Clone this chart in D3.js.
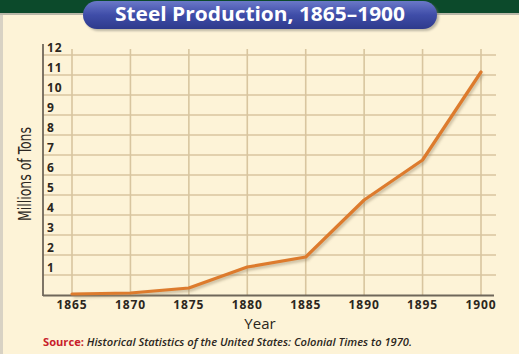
<!DOCTYPE html>
<html lang="en">
<head>
<meta charset="UTF-8">
<title>Steel Production, 1865-1900</title>
<script src="https://d3js.org/d3.v7.min.js"></script>
<style>
  body { margin: 0; background: #fff; }
  svg { display: block; }
</style>
</head>
<body>
<div id="chart"></div>
<script>
// data (millions of tons)
const years = [1865, 1870, 1875, 1880, 1885, 1890, 1895, 1900];
const tons = [0.05, 0.1, 0.35, 1.4, 1.9, 4.75, 6.75, 11.15];
const yTicks = [1, 2, 3, 4, 5, 6, 7, 8, 9, 10, 11, 12];

const W = 519, H = 354;
const svg = d3.select("#chart").append("svg")
    .attr("width", W)
    .attr("height", H);

const font = "'Open Sans', 'DejaVu Sans', sans-serif";

// background panel
svg.append("rect").attr("width", W).attr("height", H).attr("fill", "#fdf3d7");
svg.append("rect").attr("x", 0).attr("y", 0).attr("width", 3).attr("height", H).attr("fill", "#d8d2c4");
svg.append("rect").attr("x", 0).attr("y", 0).attr("width", W).attr("height", 13).attr("fill", "#0c4a2b");
svg.append("rect").attr("x", 0).attr("y", 13).attr("width", W).attr("height", 2).attr("fill", "#b9b7a8");

// title pill
const defs = svg.append("defs");
const grad = defs.append("linearGradient").attr("id", "pill").attr("x1", 0).attr("y1", 0).attr("x2", 0).attr("y2", 1);
grad.append("stop").attr("offset", "0%").attr("stop-color", "#6a78c8");
grad.append("stop").attr("offset", "50%").attr("stop-color", "#3f4da8");
grad.append("stop").attr("offset", "100%").attr("stop-color", "#2e3a8c");
const blur = defs.append("filter").attr("id", "soft").attr("x", "-10%").attr("y", "-10%").attr("width", "120%").attr("height", "140%");
blur.append("feGaussianBlur").attr("stdDeviation", 1.2);

svg.append("rect").attr("x", 85).attr("y", 3).attr("width", 354).attr("height", 28).attr("rx", 14)
    .attr("fill", "#7d7a70").attr("opacity", 0.5).attr("filter", "url(#soft)");
svg.append("rect").attr("x", 83).attr("y", 1).attr("width", 354).attr("height", 28).attr("rx", 14)
    .attr("fill", "url(#pill)");
svg.append("text")
    .attr("x", 115).attr("y", 21)
    .attr("textLength", 290)
    .attr("lengthAdjust", "spacingAndGlyphs")
    .attr("fill", "#fff")
    .style("font-family", font)
    .style("font-weight", "bold")
    .style("font-size", "19px")
    .text("Steel Production, 1865\u20131900");

// plot area
const x = d3.scaleLinear().domain([1865, 1900]).range([72, 481]);
const y = d3.scaleLinear().domain([0, 12]).range([295, 55]);
const left = 43;

const grid = svg.append("g");
grid.selectAll("line.h")
    .data(yTicks)
    .join("line")
    .attr("class", "h")
    .attr("x1", left).attr("x2", 496)
    .attr("y1", d => y(d)).attr("y2", d => y(d))
    .attr("stroke", "#d8c59f").attr("stroke-width", 1.6);
grid.selectAll("line.v")
    .data(years)
    .join("line")
    .attr("class", "v")
    .attr("x1", d => x(d)).attr("x2", d => x(d))
    .attr("y1", 49).attr("y2", 295)
    .attr("stroke", "#d8c59f").attr("stroke-width", 1.6);

// axes lines
svg.append("line").attr("x1", left).attr("x2", left).attr("y1", 44).attr("y2", 296)
    .attr("stroke", "#6f675a").attr("stroke-width", 1.8);
svg.append("line").attr("x1", left).attr("x2", 494).attr("y1", 295.5).attr("y2", 295.5)
    .attr("stroke", "#6f675a").attr("stroke-width", 1.8);

// y tick labels
svg.append("g").selectAll("text")
    .data(yTicks)
    .join("text")
    .attr("x", 47)
    .attr("y", d => y(d) - 3)
    .attr("fill", "#2b2620")
    .style("font-family", font)
    .style("font-weight", "bold")
    .style("font-size", "12px")
    .style("letter-spacing", "0.8px")
    .text(d => d);

// x tick labels
svg.append("g").selectAll("text")
    .data(years)
    .join("text")
    .attr("x", d => x(d))
    .attr("y", 309)
    .attr("text-anchor", "middle")
    .attr("fill", "#2b2620")
    .style("font-family", font)
    .style("font-weight", "bold")
    .style("font-size", "12px")
    .style("letter-spacing", "0.9px")
    .text(d => d);

// axis titles
svg.append("text")
    .attr("x", 260).attr("y", 329)
    .attr("text-anchor", "middle")
    .attr("fill", "#2b2620")
    .style("font-family", font)
    .style("font-size", "15px")
    .text("Year");
svg.append("text")
    .attr("transform", "translate(31,221) rotate(-90)")
    .attr("textLength", 94)
    .attr("lengthAdjust", "spacingAndGlyphs")
    .attr("fill", "#2b2620")
    .style("font-family", "'Liberation Sans Narrow', 'DejaVu Sans Condensed', sans-serif")
    .style("font-size", "18px")
    .text("Millions of Tons");

// source line
const src = svg.append("text")
    .attr("x", 43).attr("y", 346)
    .attr("textLength", 369)
    .attr("lengthAdjust", "spacingAndGlyphs")
    .style("font-family", font)
    .style("font-size", "11px")
    .style("font-weight", 600);
src.append("tspan").attr("fill", "#c8202a").style("font-weight", "bold").text("Source: ");
src.append("tspan").attr("fill", "#2b2620").style("font-style", "italic")
    .text("Historical Statistics of the United States: Colonial Times to 1970.");

// line with soft shadow
const line = d3.line()
    .x((d, i) => x(years[i]))
    .y(d => y(d));

const shadow = defs.append("filter").attr("id", "shadow").attr("x", "-5%").attr("y", "-5%").attr("width", "110%").attr("height", "110%");
shadow.append("feGaussianBlur").attr("stdDeviation", 1.5);

svg.append("path")
    .datum(tons)
    .attr("d", line)
    .attr("transform", "translate(1.5,2)")
    .attr("fill", "none")
    .attr("stroke", "#9b8a6c")
    .attr("stroke-width", 3)
    .attr("opacity", 0.6)
    .attr("filter", "url(#shadow)");
svg.append("path")
    .datum(tons)
    .attr("d", line)
    .attr("fill", "none")
    .attr("stroke", "#dd7b2d")
    .attr("stroke-width", 3.2)
    .attr("stroke-linejoin", "round")
    .attr("stroke-linecap", "round");
</script>
</body>
</html>
